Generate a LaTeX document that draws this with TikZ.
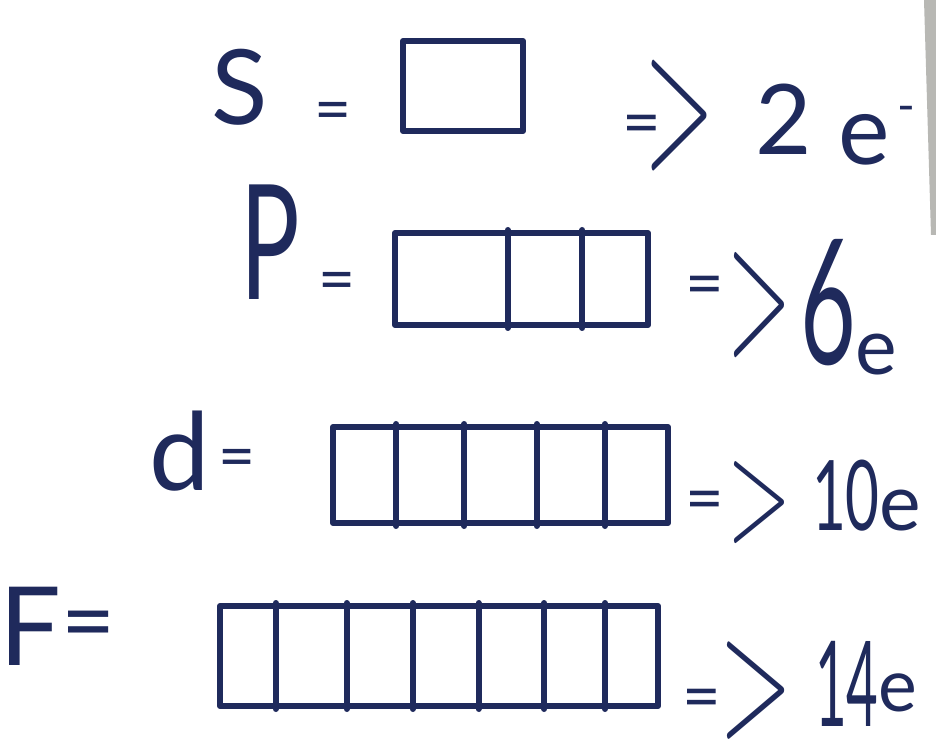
\RequirePackage{fix-cm}
\documentclass[tikz,border=0pt]{standalone}
\usepackage{fontspec}
\setmainfont{Lato}
\usepackage{graphicx}
\usetikzlibrary{calc}
\definecolor{ink}{HTML}{1F2A5C}
\definecolor{paperedge}{HTML}{B8B8B4}
\newcommand{\fs}[1]{\fontsize{#1}{#1}\selectfont}
% #1 kern, #2 xscale, #3 yscale, #4 raise of the equals sign
\newcommand{\implarrow}[4]{\raisebox{#4}{$\vcenter{\hbox{\fs{50}=}}$}\kern#1$\vcenter{\hbox{\scalebox{#2}[#3]{\fs{150}$>$}}}$}
\tikzset{
  hw/.style={text=ink, inner sep=0pt, outer sep=0pt},
  orb/.style={draw=ink, line width=4.5pt, inner sep=0pt, line join=round, anchor=north west},
  div/.style={draw=ink, line width=4.5pt, line cap=round}
}
\begin{document}
\begin{tikzpicture}[x=0.75pt,y=-0.75pt]
\useasboundingbox (0,0) rectangle (936,752);
\fill[white] (0,0) rectangle (936,752);
\fill[paperedge] (924,0) -- (936,0) -- (936,235) -- (931,235) -- cycle;

% row s
\node[hw, anchor=base] (ls) at (240,125) {\fs{78}S};
\node[hw] (eq1) at (333,117) {\fs{48}=};
\node[orb, minimum width=90pt, minimum height=67.5pt] (sbox) at (400,38) {};
\node[hw, anchor=west] (ar1) at (622,116) {\implarrow{-12pt}{0.46}{1.0}{-11pt}};
\node[hw, anchor=base west] (n1) at (755,155) {\fs{73}2\kern20pt\raisebox{-7pt}{e}\kern6pt\raisebox{24pt}{\fs{36}-}};

% row p
\node[hw, anchor=base] (lp) at (270,300) {\scalebox{0.62}[1]{\fs{120}P}};
\node[hw] (eq2) at (337,287) {\fs{48}=};
\node[orb, minimum width=189.75pt, minimum height=69pt] (pbox) at (392,230) {};
\foreach \f in {0.447,0.735}
  \draw[div] ($(pbox.north west)!\f!(pbox.north east)$) -- ($(pbox.south west)!\f!(pbox.south east)$);
\node[hw, anchor=west] (ar2) at (685,305) {\implarrow{3pt}{0.42}{0.95}{10.5pt}};
\node[hw, anchor=base west] (n2) at (800,365) {\scalebox{0.55}[1]{\fs{131}6}\raisebox{-7pt}{\fs{59}e}};

% row d
\node[hw, anchor=base] (ld) at (180,490) {\fs{81}d};
\node[hw] (eq3) at (237,464) {\fs{48}=};
\node[orb, minimum width=251.25pt, minimum height=72pt] (dbox) at (330,424) {};
\foreach \f in {0.194,0.394,0.606,0.806}
  \draw[div] ($(dbox.north west)!\f!(dbox.north east)$) -- ($(dbox.south west)!\f!(dbox.south east)$);
\node[hw, anchor=west] (ar3) at (685,502) {\implarrow{3pt}{0.42}{0.74}{-3pt}};
\node[hw, anchor=base west] (n3) at (812,530) {\scalebox{0.6}[1]{\fs{73}10}\fs{59}e};

% row f
\node[hw, anchor=base] (lf) at (30,665) {\fs{82}F};
\node[hw] (eq4) at (89,632) {\fs{70}=};
\node[orb, minimum width=328.5pt, minimum height=75pt] (fbox) at (217,603) {};
\foreach \f in {0.132,0.292,0.441,0.589,0.737,0.874}
  \draw[div] ($(fbox.north west)!\f!(fbox.north east)$) -- ($(fbox.south west)!\f!(fbox.south east)$);
\node[hw, anchor=west] (ar4) at (682,690) {\implarrow{-1pt}{0.48}{0.88}{-10.5pt}};
\node[hw, anchor=base west] (n4) at (815,726) {\scalebox{0.46}[1]{\fs{89}14}\raisebox{11pt}{\fs{55}e}};
\end{tikzpicture}
\end{document}
